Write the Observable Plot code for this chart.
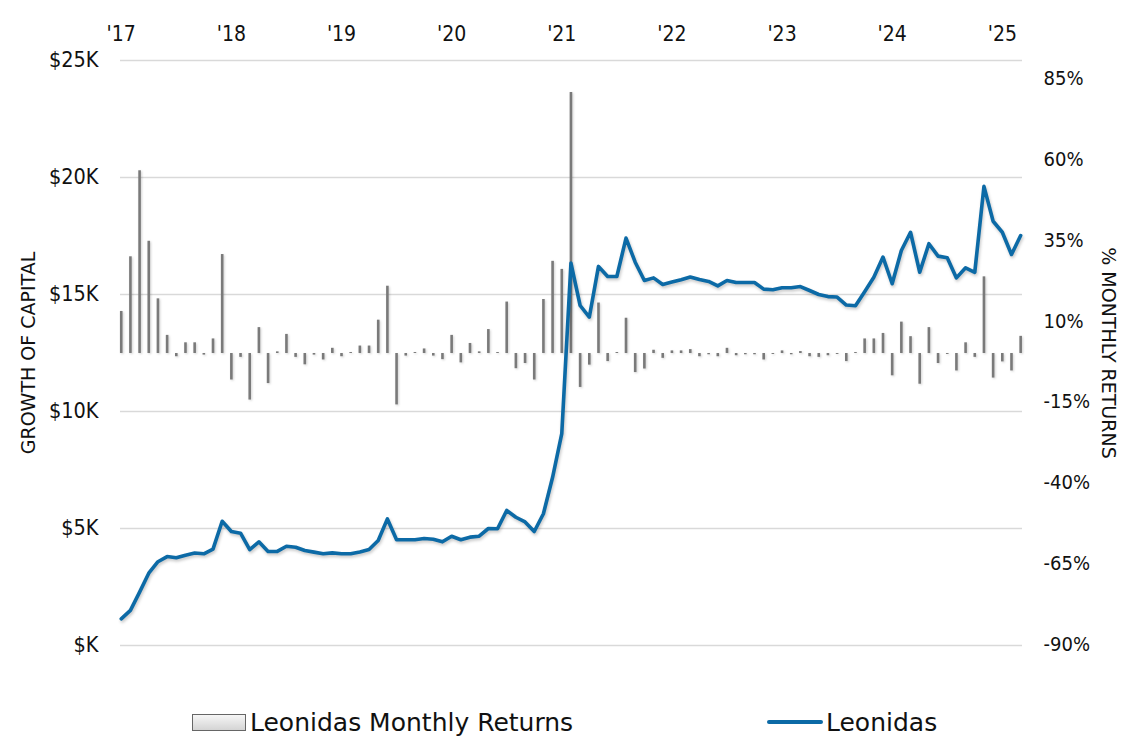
<!DOCTYPE html>
<html>
<head>
<meta charset="utf-8">
<script src="https://cdn.jsdelivr.net/npm/d3@7"></script>
<script src="https://cdn.jsdelivr.net/npm/@observablehq/plot@0.6"></script>
<style>
  html, body { margin: 0; padding: 0; background: #fff; }
  #wrap { position: relative; width: 1126px; height: 740px; font-family: "DejaVu Sans", sans-serif; }
  #chart svg { display: block; }
  svg g[aria-label="line"] { filter: drop-shadow(1px 2px 1.5px rgba(0,0,0,0.22)); }
  svg g[aria-label="rule"] { filter: drop-shadow(1px 1px 1px rgba(0,0,0,0.18)); }
  .leg { position: absolute; top: 705px; height: 34px; display: flex; align-items: center; font-size: 25px; color: #111; font-family: "DejaVu Sans", sans-serif; }
  .sw-bar { width: 52px; height: 15px; border: 1.5px solid #666; background: linear-gradient(#f6f6f6, #d4d4d4); margin-right: 4px; }
  .sw-line { width: 56px; height: 4px; background: #0c6aa6; margin-right: 3px; border-radius: 2px; }
</style>
</head>
<body>
<div id="wrap">
  <div id="chart"></div>
  <div class="leg" style="left:192px;"><div class="sw-bar"></div><span>Leonidas Monthly Returns</span></div>
  <div class="leg" style="left:767px;"><div class="sw-line"></div><span>Leonidas</span></div>
</div>
<script>
// Month categories Jan 2017 .. Mar 2025
const months = d3.utcMonth.range(new Date(Date.UTC(2017, 0, 1)), new Date(Date.UTC(2025, 3, 1))).map(d => d3.utcFormat("%Y-%m")(d));

const yearLabels = ["'17", "'18", "'19", "'20", "'21", "'22", "'23", "'24", "'25"];

// Monthly returns, %
const monthlyReturns = [
  13.0, 29.9, 56.5, 34.7, 16.9, 5.6, -1.0, 3.3, 3.3, -0.5, 4.5, 30.6,
  -8.2, -1.2, -14.4, 8.0, -9.3, 0.5, 5.9, -1.2, -3.5, -0.5, -2.0, 1.6,
  -1.0, 0.3, 2.3, 2.3, 10.3, 20.8, -15.9, -0.8, 0.3, 1.4, -0.8, -1.9,
  5.6, -2.9, 3.1, 0.5, 7.4, 0.3, 15.9, -4.7, -3.1, -8.2, 16.7, 28.5,
  26.0, 80.7, -10.5, -3.6, 15.6, -2.5, 0.3, 10.9, -5.9, -4.8, 1.0, -1.5,
  0.8, 0.8, 1.2, -1.0, -0.4, -1.0, 1.6, -0.7, -0.4, -0.4, -2.0, -0.3,
  0.8, -0.4, 0.6, -1.0, -1.2, -0.7, -0.3, -2.5, 0.3, 4.5, 4.5, 6.2,
  -6.9, 9.7, 5.2, -9.5, 8.0, -3.1, -0.3, -5.4, 3.3, -1.2, 23.7, -7.6,
  -2.6, -5.4, 5.3
];

// Growth of capital, $K
const growth = [
  1.14, 1.50, 2.28, 3.09, 3.58, 3.80, 3.75, 3.86, 3.95, 3.92, 4.12, 5.31,
  4.87, 4.80, 4.10, 4.43, 4.02, 4.02, 4.24, 4.20, 4.06, 3.99, 3.92, 3.96,
  3.92, 3.92, 4.00, 4.10, 4.49, 5.41, 4.52, 4.52, 4.52, 4.57, 4.54, 4.43,
  4.67, 4.52, 4.63, 4.67, 5.00, 4.99, 5.77, 5.48, 5.28, 4.87, 5.63, 7.19,
  9.05, 16.34, 14.53, 14.03, 16.20, 15.77, 15.77, 17.41, 16.38, 15.60, 15.71, 15.43,
  15.53, 15.63, 15.75, 15.64, 15.56, 15.37, 15.60, 15.51, 15.51, 15.51, 15.23, 15.20,
  15.29, 15.29, 15.34, 15.17, 15.00, 14.91, 14.89, 14.55, 14.52, 15.12, 15.74, 16.60,
  15.46, 16.88, 17.66, 15.95, 17.17, 16.64, 16.57, 15.71, 16.14, 15.95, 19.62, 18.13,
  17.66, 16.71, 17.52
];

const leftTicks = [0, 5, 10, 15, 20, 25];
const rightTicks = [-90, -65, -40, -15, 10, 35, 60, 85];

// right (%) axis mapped onto the left ($K) scale
const rMin = -90.3, rMax = 90.6, kMax = 25;
const toK = r => (r - rMin) / (rMax - rMin) * kMax;
const fromK = k => rMin + k / kMax * (rMax - rMin);

const data = months.map((m, i) => ({i, month: m, ret: monthlyReturns[i], value: growth[i]}));

const cond = "'DejaVu Sans Condensed', 'DejaVu Sans', sans-serif";
const wide = "'DejaVu Sans', sans-serif";

const chart = Plot.plot({
  width: 1126,
  height: 700,
  marginLeft: 120,
  marginRight: 104,
  marginTop: 60,
  marginBottom: 55,
  style: {fontFamily: cond, fontSize: "21px", color: "#111", background: "#fff"},
  x: {type: "linear", domain: [-0.08, 98.2]},
  y: {domain: [0, kMax]},
  marks: [
    Plot.gridY(leftTicks, {stroke: "#d9d9d9", strokeOpacity: 1, strokeWidth: 1.6}),
    Plot.axisX(d3.range(0, 97, 12), {anchor: "top", tickSize: 0, tickPadding: 20, tickFormat: d => yearLabels[d / 12], fontSize: 21, label: null}),
    Plot.axisY(leftTicks, {anchor: "left", tickSize: 0, tickPadding: 22, tickFormat: d => "$" + (d === 0 ? "" : d) + "K", fontSize: 21.5, label: null}),
    Plot.axisY(rightTicks.map(toK), {anchor: "right", tickSize: 0, tickPadding: 21, tickFormat: d => Math.round(fromK(d)) + "%", fontSize: 20, label: null, textAnchor: "start"}),
    Plot.text(["GROWTH OF CAPITAL"], {frameAnchor: "left", dx: -92, rotate: -90, textAnchor: "middle", fontSize: 19, fontFamily: wide, fill: "#111"}),
    Plot.text(["% MONTHLY RETURNS"], {frameAnchor: "right", dx: 86, rotate: 90, textAnchor: "middle", fontSize: 19, fontFamily: wide, fill: "#111"}),
    Plot.ruleX(data, {x: "i", y1: () => toK(0), y2: d => toK(d.ret), stroke: "#7a7a7a", strokeWidth: 2.6}),
    Plot.line(data, {x: "i", y: "value", stroke: "#0c6aa6", strokeWidth: 3.6, strokeLinejoin: "round", strokeLinecap: "round"})
  ]
});
document.getElementById("chart").appendChild(chart);
</script>
</body>
</html>
